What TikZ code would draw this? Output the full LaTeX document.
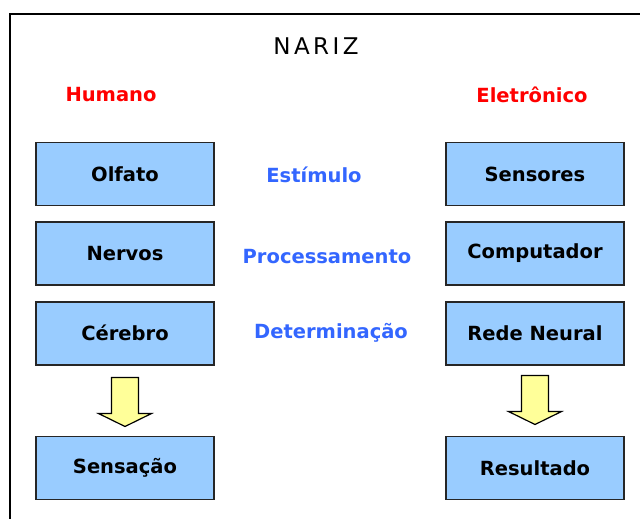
\documentclass[tikz,border=0pt]{standalone}
\usepackage{fontspec}
\setmainfont{DejaVu Sans}
\usetikzlibrary{positioning}
\definecolor{caixa}{RGB}{153,204,255}
\definecolor{setacor}{RGB}{255,255,153}
\definecolor{vermelho}{RGB}{255,0,0}
\definecolor{azul}{RGB}{51,102,255}
\tikzset{%
    block/.style = {draw=black!85, fill=caixa, rectangle, line width=1.6pt,
        minimum height=63pt, minimum width=178pt, align=center,
        font=\bfseries\fontsize{19.5}{22}\selectfont},
    seta/.style = {draw=black, fill=setacor, line width=1.2pt, line join=miter},
    titulo/.style = {font=\bfseries\fontsize{19.5}{22}\selectfont, text=vermelho},
    etapa/.style = {font=\bfseries\fontsize{19.5}{22}\selectfont, text=azul}
}

\begin{document}
\begin{tikzpicture}[x=1pt, y=-1pt, node distance = 15pt]
    \useasboundingbox (0,0) rectangle (640,519);
    \draw[line width=2pt] (10,519) -- (10,14) -- (640,14);
    \node[font=\fontsize{23}{26}\selectfont\addfontfeature{LetterSpace=15}] (nariz) at (316,46) {NARIZ};
    \node[titulo] (humano) at (111,95) {Humano};
    \node[titulo] (eletronico) at (532,95) {Eletrônico};
    % humano
    \node[block] (olfato) at (125,174) {Olfato};
    \node[block, below=of olfato] (nervos) {Nervos};
    \node[block, below=of nervos] (cerebro) {Cérebro};
    \node[block, below=70pt of cerebro] (sensacao) {Sensação};
    % eletronico
    \node[block] (sensores) at (535,174) {Sensores};
    \node[block, below=of sensores] (computador) {Computador};
    \node[block, below=of computador] (rede) {Rede Neural};
    \node[block, below=70pt of rede] (resultado) {Resultado};
    % etapas
    \node[etapa] (estimulo) at (314,175) {Estímulo};
    \node[etapa] (processamento) at (327,257) {Processamento};
    \node[etapa] (determinacao) at (331,333) {Determinação};
    % setas
    \draw[seta] (cerebro.south) ++(-13.5,12) -- ++(27,0) -- ++(0,36) -- ++(13,0)
        -- ++(-26.5,13) -- ++(-26.5,-13) -- ++(13,0) -- cycle;
    \draw[seta] (rede.south) ++(-13.5,10) -- ++(27,0) -- ++(0,36) -- ++(13,0)
        -- ++(-26.5,13) -- ++(-26.5,-13) -- ++(13,0) -- cycle;
\end{tikzpicture}
\end{document}
